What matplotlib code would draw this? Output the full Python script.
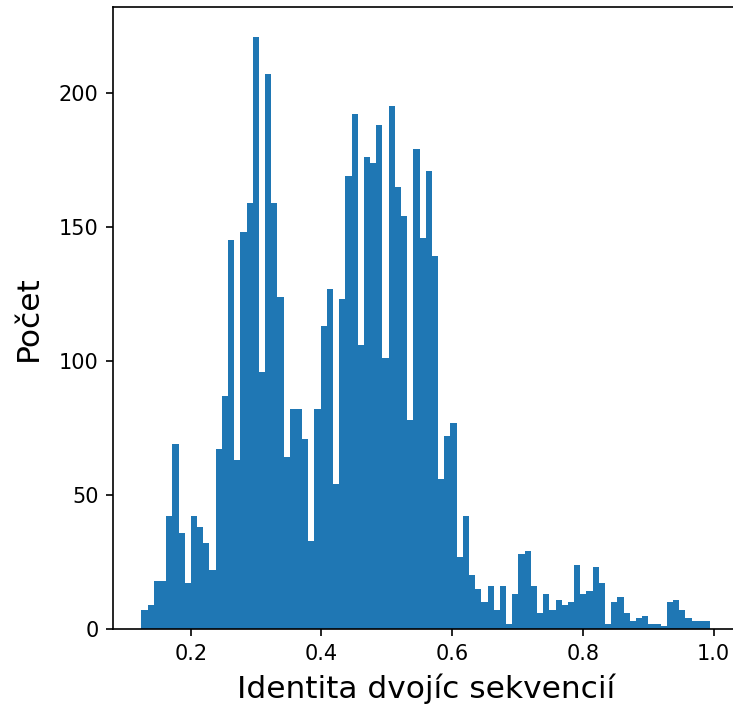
import numpy as np
import matplotlib
matplotlib.use('Agg')
import matplotlib.pyplot as plt

# histogram of pairwise sequence identity, counts
BIN_START = 0.1245
BIN_END = 0.9947
POCTY = [7, 9, 18, 18, 42, 69, 36, 17, 42, 38,
         32, 22, 67, 87, 145, 63, 148, 159, 221, 96,
         207, 159, 124, 64, 82, 82, 71, 33, 82, 113,
         127, 54, 123, 169, 192, 106, 176, 174, 188, 101,
         195, 165, 154, 78, 179, 146, 171, 139, 56, 72,
         77, 27, 42, 20, 15, 10, 16, 7, 16, 2,
         13, 28, 29, 16, 6, 13, 7, 11, 9, 10,
         24, 13, 14, 23, 17, 2, 10, 12, 6, 3,
         4, 5, 2, 2, 1, 10, 11, 7, 4, 3,
         3, 3]

if __name__ == '__main__':
    hrany = np.linspace(BIN_START, BIN_END, len(POCTY) + 1)
    stredy = (hrany[:-1] + hrany[1:]) / 2

    fig = plt.figure(figsize=(733 / 150, 706 / 150), dpi=150)
    ax = fig.add_axes([113 / 733, 77 / 706, 625.5 / 733, 622 / 706])
    ax.hist(stredy, bins=hrany, weights=POCTY, color='#1f77b4')
    ax.set_xlabel('Identita dvojíc sekvencií', fontsize=15, labelpad=5)
    ax.set_ylabel('Počet', fontsize=15, labelpad=7.5)
    plt.savefig('out.png', dpi=150)
